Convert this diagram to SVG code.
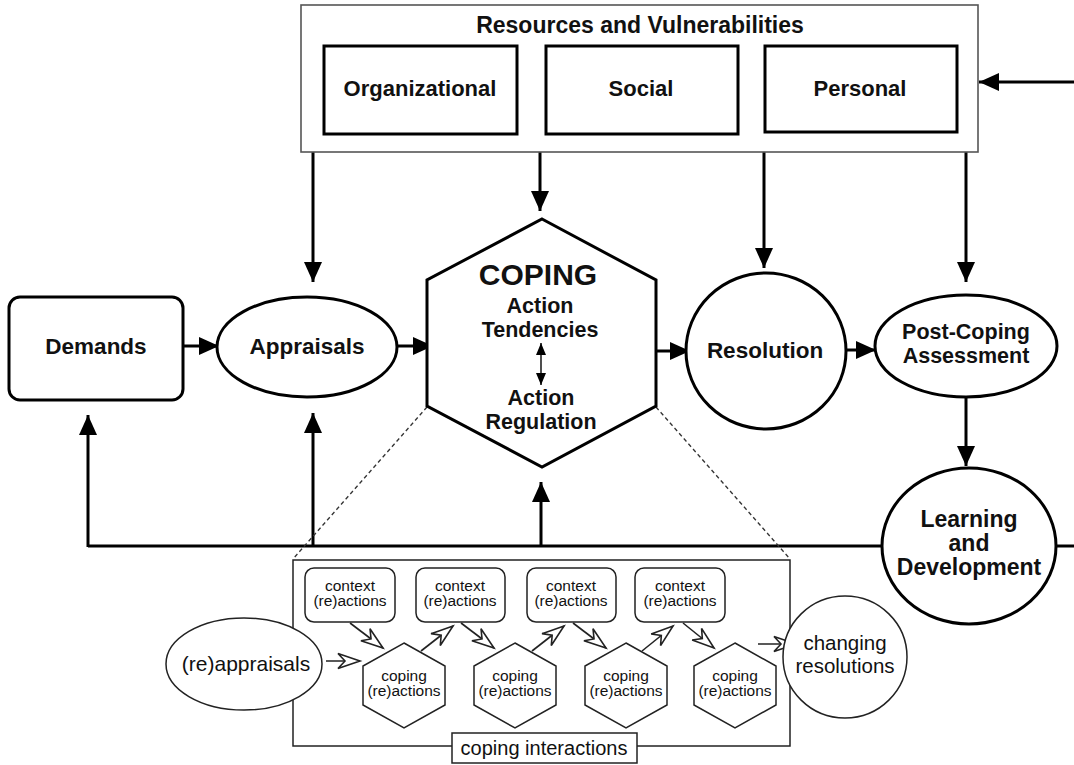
<svg xmlns="http://www.w3.org/2000/svg" width="1074" height="765" viewBox="0 0 1074 765">
  <style>
    .bold { font-family: "Liberation Sans", Arial, sans-serif; font-weight: bold; fill: #111; text-anchor: middle; }
    .reg { font-family: "Liberation Sans", Arial, sans-serif; fill: #111; text-anchor: middle; }
    .thick { fill: #fff; stroke: #000; stroke-width: 3; }
    .thin { fill: #fff; stroke: #222; stroke-width: 1.5; }
    .line { fill: none; stroke: #000; stroke-width: 3; }
    .sline { fill: none; stroke: #222; stroke-width: 1.6; }
    .dash { fill: none; stroke: #333; stroke-width: 1.3; stroke-dasharray: 4 3; }
  </style>
  <defs>
    <marker id="ah" markerUnits="userSpaceOnUse" markerWidth="20" markerHeight="18" refX="20" refY="9" orient="auto">
      <path d="M0,0 L20,9 L0,18 z" fill="#000"/>
    </marker>
    <marker id="ahs" markerUnits="userSpaceOnUse" markerWidth="12" markerHeight="10" refX="12" refY="5" orient="auto-start-reverse">
      <path d="M0,0 L12,5 L0,10 z" fill="#000"/>
    </marker>
    <marker id="ho" markerUnits="userSpaceOnUse" markerWidth="26" markerHeight="18" refX="23" refY="9" orient="auto" overflow="visible">
      <path d="M1,1.5 L23,9 L1,16.5 L8,9 z" fill="#fff" stroke="#222" stroke-width="1.6" stroke-linejoin="miter"/>
    </marker>
  </defs>

  <!-- connectors -->
  <g id="connectors">
    <path class="line" d="M1074,82 H979" marker-end="url(#ah)"/>
    <path class="line" d="M313,152 V282" marker-end="url(#ah)"/>
    <path class="line" d="M540,152 V211" marker-end="url(#ah)"/>
    <path class="line" d="M764,152 V268" marker-end="url(#ah)"/>
    <path class="line" d="M966,152 V282" marker-end="url(#ah)"/>
    <path class="line" d="M183,346 H219" marker-end="url(#ah)"/>
    <path class="line" d="M397,346 H433" marker-end="url(#ah)"/>
    <path class="line" d="M653,351 H690" marker-end="url(#ah)"/>
    <path class="line" d="M847,350 H876" marker-end="url(#ah)"/>
    <path class="line" d="M966,397 V466" marker-end="url(#ah)"/>
    <path class="line" d="M882,546 H88"/>
    <path class="line" d="M1057,546 H1074"/>
    <path class="line" d="M88,547 V415" marker-end="url(#ah)"/>
    <path class="line" d="M313,547 V413" marker-end="url(#ah)"/>
    <path class="line" d="M541,547 V482" marker-end="url(#ah)"/>
    <path class="dash" d="M427,407 L293,559"/>
    <path class="dash" d="M656,407 L790,559"/>
  </g>

  <!-- resources and vulnerabilities -->
  <g id="resources">
    <rect x="301" y="5" width="677" height="147" fill="#fff" stroke="#555" stroke-width="1.6"/>
    <text class="bold" x="640" y="33" font-size="23">Resources and Vulnerabilities</text>
  </g>
  <g id="organizational">
    <rect class="thick" x="324" y="46" width="193" height="88"/>
    <text class="bold" x="420" y="96" font-size="22">Organizational</text>
  </g>
  <g id="social">
    <rect class="thick" x="546" y="46" width="192" height="88"/>
    <text class="bold" x="641" y="96" font-size="22">Social</text>
  </g>
  <g id="personal">
    <rect class="thick" x="765" y="46" width="192" height="86"/>
    <text class="bold" x="860" y="96" font-size="22">Personal</text>
  </g>

  <!-- main flow -->
  <g id="demands">
    <rect class="thick" x="9" y="297" width="174" height="103" rx="11"/>
    <text class="bold" x="96" y="354" font-size="22.5">Demands</text>
  </g>
  <g id="appraisals">
    <ellipse class="thick" cx="307" cy="347" rx="90" ry="50"/>
    <text class="bold" x="307" y="354" font-size="22.5">Appraisals</text>
  </g>
  <g id="coping">
    <polygon class="thick" points="542,219 656,280 656,406 542,467 427,406 427,280"/>
    <text class="bold" x="538" y="285" font-size="30">COPING</text>
    <text class="bold" font-size="21.5"><tspan x="540" y="313">Action</tspan><tspan x="540" y="337">Tendencies</tspan></text>
    <path class="sline" d="M541,343 V385" stroke="#000" marker-start="url(#ahs)" marker-end="url(#ahs)"/>
    <text class="bold" font-size="21.5"><tspan x="541" y="405">Action</tspan><tspan x="541" y="429">Regulation</tspan></text>
  </g>
  <g id="resolution">
    <ellipse class="thick" cx="766" cy="351" rx="80" ry="78"/>
    <text class="bold" x="765" y="358" font-size="22.5">Resolution</text>
  </g>
  <g id="post-coping">
    <ellipse class="thick" cx="966" cy="346" rx="91" ry="51"/>
    <text class="bold" font-size="21.5"><tspan x="966" y="339">Post-Coping</tspan><tspan x="966" y="363">Assessment</tspan></text>
  </g>
  <g id="learning">
    <ellipse class="thick" cx="969" cy="546" rx="87" ry="78"/>
    <text class="bold" font-size="23"><tspan x="969" y="527">Learning</tspan><tspan x="969" y="551">and</tspan><tspan x="969" y="575">Development</tspan></text>
  </g>

  <!-- coping interactions detail -->
  <g id="coping-interactions">
    <rect x="293" y="560" width="497" height="186" fill="none" stroke="#222" stroke-width="1.5"/>
    <rect class="thin" x="452" y="733" width="185" height="30"/>
    <text class="reg" x="544" y="755" font-size="20">coping interactions</text>
  </g>

  <g id="context-1">
    <rect class="thin" x="305" y="568" width="90" height="54" rx="9"/>
    <text class="reg" font-size="15.5"><tspan x="350" y="591">context</tspan><tspan x="350" y="606">(re)actions</tspan></text>
  </g>
  <g id="context-2">
    <rect class="thin" x="416" y="568" width="89" height="54" rx="9"/>
    <text class="reg" font-size="15.5"><tspan x="460" y="591">context</tspan><tspan x="460" y="606">(re)actions</tspan></text>
  </g>
  <g id="context-3">
    <rect class="thin" x="527" y="568" width="89" height="54" rx="9"/>
    <text class="reg" font-size="15.5"><tspan x="571" y="591">context</tspan><tspan x="571" y="606">(re)actions</tspan></text>
  </g>
  <g id="context-4">
    <rect class="thin" x="635" y="568" width="90" height="54" rx="9"/>
    <text class="reg" font-size="15.5"><tspan x="680" y="591">context</tspan><tspan x="680" y="606">(re)actions</tspan></text>
  </g>

  <g id="coping-1">
    <polygon class="thin" points="404,643 445,666 445,705 404,728 363,705 363,666"/>
    <text class="reg" font-size="15.5"><tspan x="404" y="681">coping</tspan><tspan x="404" y="696">(re)actions</tspan></text>
  </g>
  <g id="coping-2">
    <polygon class="thin" points="515,643 556,666 556,705 515,728 474,705 474,666"/>
    <text class="reg" font-size="15.5"><tspan x="515" y="681">coping</tspan><tspan x="515" y="696">(re)actions</tspan></text>
  </g>
  <g id="coping-3">
    <polygon class="thin" points="626,643 667,666 667,705 626,728 585,705 585,666"/>
    <text class="reg" font-size="15.5"><tspan x="626" y="681">coping</tspan><tspan x="626" y="696">(re)actions</tspan></text>
  </g>
  <g id="coping-4">
    <polygon class="thin" points="735,643 776,666 776,705 735,728 694,705 694,666"/>
    <text class="reg" font-size="15.5"><tspan x="735" y="681">coping</tspan><tspan x="735" y="696">(re)actions</tspan></text>
  </g>

  <g id="small-connectors">
    <path class="sline" d="M326,661 H360" marker-end="url(#ho)"/>
    <path class="sline" d="M350,623 L383,648" marker-end="url(#ho)"/>
    <path class="sline" d="M421,651 L453,626" marker-end="url(#ho)"/>
    <path class="sline" d="M461,623 L494,648" marker-end="url(#ho)"/>
    <path class="sline" d="M532,651 L564,626" marker-end="url(#ho)"/>
    <path class="sline" d="M573,623 L606,648" marker-end="url(#ho)"/>
    <path class="sline" d="M642,651 L673,626" marker-end="url(#ho)"/>
    <path class="sline" d="M683,623 L714,648" marker-end="url(#ho)"/>
    <path class="sline" d="M758,644 H796" marker-end="url(#ho)"/>
  </g>

  <g id="reappraisals">
    <ellipse class="thin" cx="244" cy="664" rx="78" ry="46"/>
    <text class="reg" x="246" y="671" font-size="21">(re)appraisals</text>
  </g>
  <g id="changing-resolutions">
    <ellipse class="thin" cx="845" cy="657" rx="62" ry="61"/>
    <text class="reg" font-size="20.5"><tspan x="845" y="650">changing</tspan><tspan x="845" y="673">resolutions</tspan></text>
  </g>
</svg>
